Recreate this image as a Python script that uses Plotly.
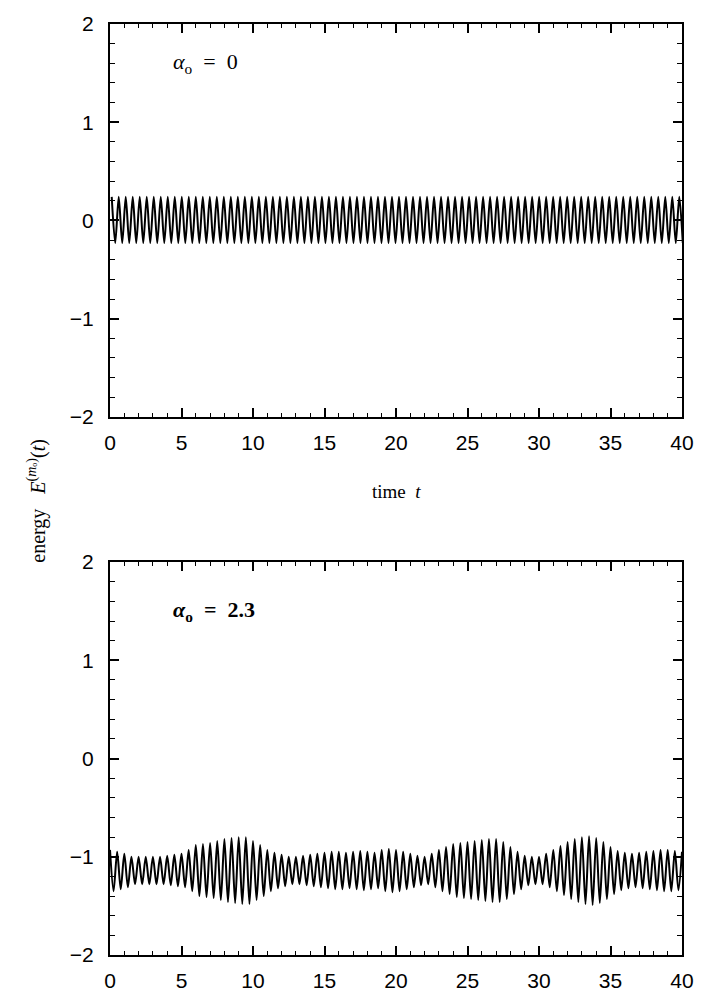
import numpy as np
import plotly.graph_objects as go

# ---- data -------------------------------------------------------------
# alpha_o = 0 : successive maxima / minima of E(t), one pair per cycle
top_period = 0.49
top_t0 = 0.12
top_hi = [0.24, 0.24, 0.24, 0.24, 0.24, 0.24, 0.24, 0.24, 0.24, 0.24,
          0.24, 0.24, 0.24, 0.24, 0.24, 0.24, 0.24, 0.24, 0.24, 0.24,
          0.24, 0.24, 0.24, 0.24, 0.24, 0.24, 0.24, 0.24, 0.24, 0.24,
          0.24, 0.24, 0.24, 0.24, 0.24, 0.24, 0.24, 0.24, 0.24, 0.24,
          0.24, 0.24, 0.24, 0.24, 0.24, 0.24, 0.24, 0.24, 0.24, 0.24,
          0.24, 0.24, 0.24, 0.24, 0.24, 0.24, 0.24, 0.24, 0.24, 0.24,
          0.24, 0.24, 0.24, 0.24, 0.24, 0.24, 0.24, 0.24, 0.24, 0.24,
          0.24, 0.24, 0.24, 0.24, 0.24, 0.24, 0.24, 0.24, 0.24, 0.24,
          0.24, 0.24]
top_lo = [-0.23, -0.23, -0.23, -0.23, -0.23, -0.23, -0.23, -0.23, -0.23, -0.23,
          -0.23, -0.23, -0.23, -0.23, -0.23, -0.23, -0.23, -0.23, -0.23, -0.23,
          -0.23, -0.23, -0.23, -0.23, -0.23, -0.23, -0.23, -0.23, -0.23, -0.23,
          -0.23, -0.23, -0.23, -0.23, -0.23, -0.23, -0.23, -0.23, -0.23, -0.23,
          -0.23, -0.23, -0.23, -0.23, -0.23, -0.23, -0.23, -0.23, -0.23, -0.23,
          -0.23, -0.23, -0.23, -0.23, -0.23, -0.23, -0.23, -0.23, -0.23, -0.23,
          -0.23, -0.23, -0.23, -0.23, -0.23, -0.23, -0.23, -0.23, -0.23, -0.23,
          -0.23, -0.23, -0.23, -0.23, -0.23, -0.23, -0.23, -0.23, -0.23, -0.23,
          -0.23, -0.23]

# alpha_o = 2.3 : successive maxima / minima of E(t)
bot_period = 0.5
bot_t0 = 0.0
bot_hi = [-0.93, -0.95, -0.97, -1.00, -1.00, -1.00, -1.00, -1.00, -0.99, -0.98,
          -0.97, -0.93, -0.88, -0.87, -0.86, -0.84, -0.82, -0.81, -0.80, -0.80,
          -0.84, -0.88, -0.93, -0.96, -0.98, -1.00, -1.00, -0.99, -0.98, -0.97,
          -0.96, -0.95, -0.95, -0.96, -0.95, -0.94, -0.95, -0.96, -0.93, -0.92,
          -0.93, -0.95, -0.97, -0.99, -1.00, -0.97, -0.93, -0.90, -0.87, -0.86,
          -0.85, -0.84, -0.83, -0.82, -0.82, -0.85, -0.90, -0.95, -0.99, -1.00,
          -1.00, -0.97, -0.93, -0.89, -0.85, -0.82, -0.80, -0.79, -0.81, -0.85,
          -0.90, -0.94, -0.96, -0.97, -0.96, -0.95, -0.94, -0.93, -0.93, -0.94,
          -0.95]
bot_lo = [-1.35, -1.33, -1.31, -1.28, -1.28, -1.28, -1.28, -1.28, -1.29, -1.30,
          -1.31, -1.35, -1.40, -1.41, -1.42, -1.44, -1.46, -1.47, -1.48, -1.48,
          -1.44, -1.40, -1.35, -1.32, -1.30, -1.28, -1.28, -1.29, -1.30, -1.31,
          -1.32, -1.33, -1.33, -1.32, -1.33, -1.34, -1.33, -1.32, -1.35, -1.36,
          -1.35, -1.33, -1.31, -1.29, -1.28, -1.31, -1.35, -1.38, -1.41, -1.42,
          -1.43, -1.44, -1.45, -1.46, -1.46, -1.43, -1.38, -1.33, -1.29, -1.28,
          -1.28, -1.31, -1.35, -1.39, -1.43, -1.46, -1.48, -1.49, -1.47, -1.43,
          -1.38, -1.34, -1.32, -1.31, -1.32, -1.33, -1.34, -1.35, -1.35, -1.34]

x_ticks = [0, 5, 10, 15, 20, 25, 30, 35, 40]
y_ticks = [-2, -1, 0, 1, 2]
panel_labels = ["<i>α</i><sub>o</sub>  =  0", "<b><i>α</i><sub>o</sub>  =  2.3</b>"]


def interleave(hi, lo, t0, period):
    """Merge maxima and minima into one time-ordered trace."""
    t, e = [], []
    for k in range(max(len(hi), len(lo))):
        if k < len(hi):
            t.append(t0 + k * period)
            e.append(hi[k])
        if k < len(lo):
            t.append(t0 + (k + 0.5) * period)
            e.append(lo[k])
    return np.array(t), np.array(e)


t_top, e_top = interleave(top_hi, top_lo, top_t0, top_period)
t_bot, e_bot = interleave(bot_hi, bot_lo, bot_t0, bot_period)

# ---- figure -----------------------------------------------------------
W, H = 706, 1004
m_l, m_r, m_t, m_b = 110, 14, 16, 33
pw = W - m_l - m_r
ph = H - m_t - m_b
y_bottom_px = H - m_b            # pixel row of the lower frame edge
top_dom = [(y_bottom_px - 419) / ph, 1.0]
bot_dom = [0.0, (y_bottom_px - 568) / ph]

fig = go.Figure()
line = dict(color="black", width=2.0, shape="spline", smoothing=0.8)
fig.add_trace(go.Scatter(x=t_top, y=e_top, mode="lines", line=line,
                         xaxis="x", yaxis="y", showlegend=False))
fig.add_trace(go.Scatter(x=t_bot, y=e_bot, mode="lines", line=line,
                         xaxis="x2", yaxis="y2", showlegend=False))

tickfont = dict(family="Liberation Sans, Arial, sans-serif", size=21, color="black")
xcommon = dict(range=[0, 40], tickvals=x_ticks, ticks="inside", ticklen=9,
               tickwidth=1.6, tickcolor="black", showline=True, linewidth=2,
               linecolor="black", mirror="allticks", showgrid=False,
               zeroline=False, tickfont=tickfont, ticklabelstandoff=6,
               minor=dict(ticks="inside", dtick=1, ticklen=4, tickwidth=1.2,
                          tickcolor="black", showgrid=False))
ycommon = dict(range=[-2, 2], tickvals=y_ticks, ticks="inside", ticklen=9,
               tickwidth=1.6, tickcolor="black", showline=True, linewidth=2,
               linecolor="black", mirror="allticks", showgrid=False,
               zeroline=False, tickfont=tickfont, ticklabelstandoff=10,
               minor=dict(ticks="inside", dtick=0.2, ticklen=5, tickwidth=1.2,
                          tickcolor="black", showgrid=False))

fig.update_layout(
    width=W, height=H,
    margin=dict(l=m_l, r=m_r, t=m_t, b=m_b),
    paper_bgcolor="white", plot_bgcolor="white",
    xaxis=dict(domain=[0, 1], anchor="y", **xcommon),
    yaxis=dict(domain=top_dom, anchor="x", **ycommon),
    xaxis2=dict(domain=[0, 1], anchor="y2", **xcommon),
    yaxis2=dict(domain=bot_dom, anchor="x2", **ycommon),
)

serif = "Liberation Serif, DejaVu Serif, serif"
label_y = [1.6, 1.5]
for i, (xr, yr) in enumerate([("x", "y"), ("x2", "y2")]):
    fig.add_annotation(x=4.3, y=label_y[i], xref=xr, yref=yr, text=panel_labels[i],
                       showarrow=False, xanchor="left", yanchor="middle",
                       font=dict(family=serif, size=22, color="black"))

fig.add_annotation(x=0.5, y=(y_bottom_px - 496) / ph, xref="paper", yref="paper",
                   text="time  <i>t</i>", showarrow=False,
                   font=dict(family=serif, size=19, color="black"))
fig.add_annotation(x=-(m_l - 21) / pw, y=(y_bottom_px - 505) / ph,
                   xref="paper", yref="paper", textangle=-90,
                   text="energy   <i>E</i><sup>(<i>m</i>ₒ)</sup>(<i>t</i>)",
                   showarrow=False,
                   font=dict(family=serif, size=20, color="black"))

fig.write_html("out.html")
